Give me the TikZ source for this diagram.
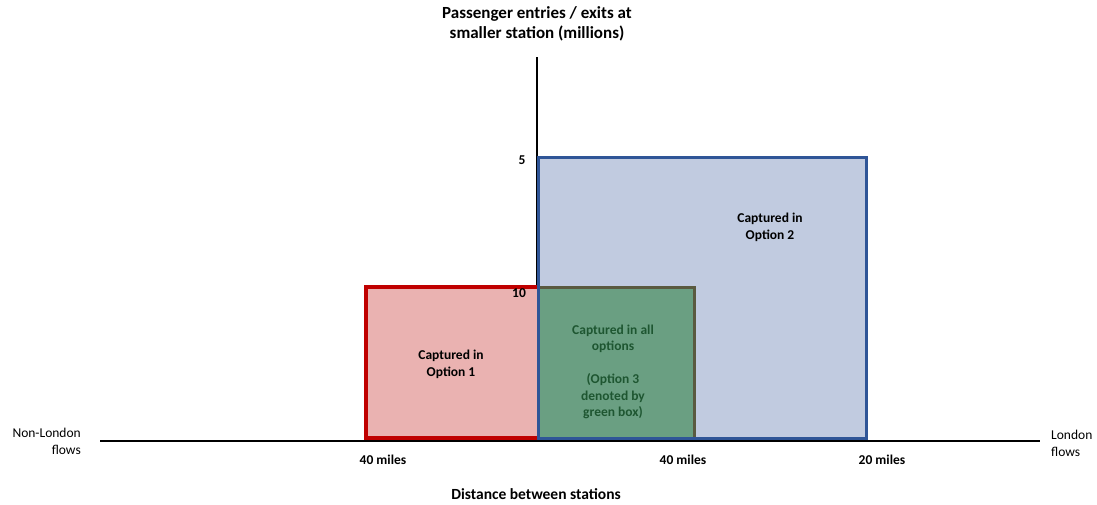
\documentclass[tikz,border=0pt]{standalone}
\usepackage{fontspec}
\setmainfont{Carlito}
\definecolor{optred}{HTML}{C00000}
\definecolor{optredfill}{HTML}{EAB2B1}
\definecolor{optblue}{HTML}{2F5597}
\definecolor{optbluefill}{HTML}{C1CBE0}
\definecolor{optgreen}{HTML}{5A5A40}
\definecolor{optgreenfill}{HTML}{6A9F82}
\definecolor{greentext}{HTML}{1E5631}

\begin{document}
\begin{tikzpicture}[x=1pt,y=-1pt,
  lbl/.style={font=\fontsize{13.5}{17}\selectfont\bfseries, align=center, inner sep=0pt},
  side/.style={font=\fontsize{13.5}{17}\selectfont, inner sep=0pt}]
\useasboundingbox (0,0) rectangle (1097,504);
% axes
\coordinate (xl) at (100,441);
\coordinate (xr) at (1040,441);
\coordinate (yt) at (537,57);
\coordinate (yb) at (537,441);
\draw[line width=2pt] (xl) -- (xr);
\draw[line width=2pt] (yt) -- (yb);
% boxes
\draw[line width=3.5pt, draw=optred, fill=optredfill] (366,287) rectangle (539,438);
\fill[optbluefill] (538,157) rectangle (866,438);
\draw[line width=3pt, draw=optgreen, fill=optgreenfill] (538,287) rectangle (694,438);
\draw[line width=3pt, draw=optblue] (538,157) rectangle (866,438);
% labels
\node[lbl, font=\fontsize{17}{20}\selectfont\bfseries] (ytitle) at (537,24) {Passenger entries / exits at\\smaller station (millions)};
\node[lbl] (five) at (522,160) {5};
\node[lbl] (ten) at (519,293) {10};
\node[lbl] (opt2) at (770,227) {Captured in\\Option 2};
\node[lbl] (opt1) at (451,364) {Captured in\\Option 1};
\node[lbl, text=greentext, font=\fontsize{13.5}{16.5}\selectfont\bfseries] (optall) at (613,372) {Captured in all\\options\\\\(Option 3\\denoted by\\green box)};
\node[lbl] (m40a) at (383,460) {40 miles};
\node[lbl] (m40b) at (683,460) {40 miles};
\node[lbl] (m20) at (882,460) {20 miles};
\node[lbl, font=\fontsize{15.5}{17}\selectfont\bfseries] (xtitle) at (536,494) {Distance between stations};
\node[side, align=right, anchor=east] (nonlondon) at (81,441) {Non-London\\flows};
\node[side, align=left, anchor=west] (london) at (1051,443) {London\\flows};
\end{tikzpicture}
\end{document}
